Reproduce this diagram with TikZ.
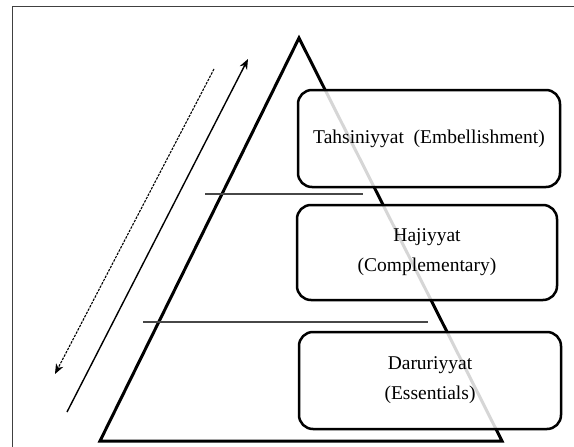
\documentclass[tikz,border=0pt]{standalone}
\usepackage{fontspec}
\setmainfont{Liberation Serif}
\usetikzlibrary{arrows.meta}
\begin{document}
\begin{tikzpicture}[x=1pt,y=-1pt,
  lvl/.style={draw=black, line width=2.5pt, rounded corners=14pt, fill=white, fill opacity=0.84, draw opacity=1, text opacity=1, align=center, font=\fontsize{19.5}{30}\selectfont, inner sep=0pt},
  tri/.style={line width=3pt, line join=miter},
  sep/.style={draw=black!72, line width=1.1pt},
  frame/.style={draw=black!75, line width=0.9pt},
  arr/.style={line width=1.4pt, -{Stealth[length=10pt,width=8pt,inset=3pt]}},
  darr/.style={line width=1.1pt, dash pattern=on 2.5pt off 1.2pt, -{Stealth[length=10pt,width=8pt,inset=3pt]}}]
\useasboundingbox (0,0) rectangle (574,447);
\fill[white] (0,0) rectangle (574,447);
% frame
\coordinate (fb) at (12,447);
\coordinate (ftl) at (12,6);
\coordinate (fr) at (574,6);
\draw[frame] (fb) -- (ftl) -- (fr);
% triangle
\coordinate (apex) at (299,38);
\coordinate (bl) at (100,441);
\coordinate (br) at (502,441);
\draw[tri] (apex) -- (bl) -- (br) -- cycle;
% separators
\coordinate (s1a) at (205,194);
\coordinate (s1b) at (363,194);
\coordinate (s2a) at (143,322);
\coordinate (s2b) at (428,322);
\draw[sep] (s1a) -- (s1b);
\draw[sep] (s2a) -- (s2b);
% arrows
\coordinate (a1s) at (67,412);
\coordinate (a1e) at (248,59);
\draw[arr] (a1s) -- (a1e);
\coordinate (a2s) at (214,69);
\coordinate (a2e) at (55,374);
\draw[darr] (a2s) -- (a2e);
% boxes
\node[lvl, minimum width=262pt, minimum height=97pt] (tah) at (429,138.5) {Tahsiniyyat\ \ (Embellishment)};
\node[lvl, minimum width=260pt, minimum height=95pt] (haj) at (427,252.5) {Hajiyyat\\(Complementary)};
\node[lvl, minimum width=262pt, minimum height=97pt] (dar) at (430,380.5) {Daruriyyat\\(Essentials)};
\end{tikzpicture}
\end{document}
